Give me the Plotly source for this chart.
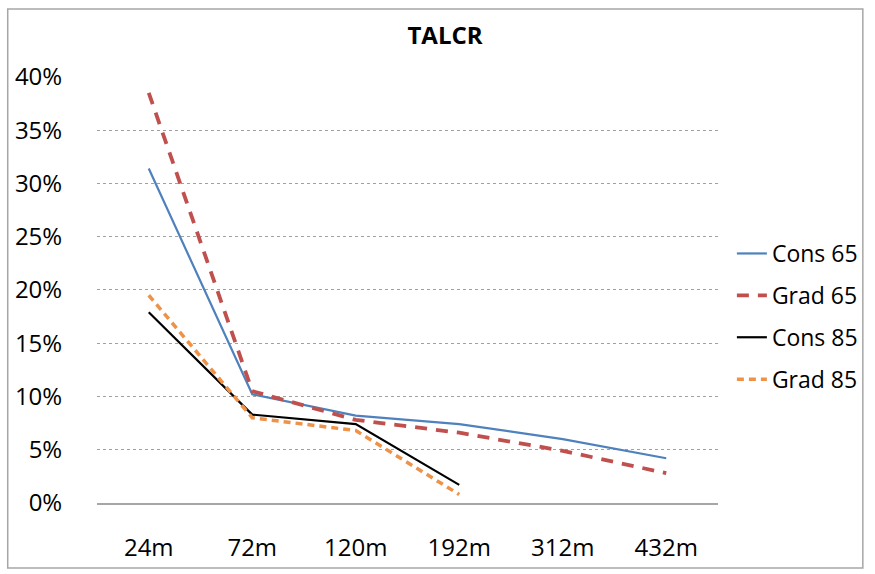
import plotly.graph_objects as go

categories = ["24m", "72m", "120m", "192m", "312m", "432m"]
cons65 = [0.314, 0.102, 0.082, 0.074, 0.060, 0.042]
grad65 = [0.385, 0.105, 0.078, 0.066, 0.049, 0.028]
cons85 = [0.179, 0.083, 0.074, 0.017]
grad85 = [0.195, 0.080, 0.068, 0.008]
yticks = [0, 0.05, 0.10, 0.15, 0.20, 0.25, 0.30, 0.35, 0.40]
ytext = ["0%", "5%", "10%", "15%", "20%", "25%", "30%", "35%", "40%"]

FONT = "Open Sans"
W, H = 875, 574
L, T = 97, 76
pw, ph = 626, 427
R = W - L - pw
B = H - T - ph

fig = go.Figure()
fig.add_trace(go.Scatter(x=categories, y=cons65, name="Cons 65", mode="lines",
                         line=dict(color="#4F81BD", width=2.2), legendgroup="a"))
fig.add_trace(go.Scatter(x=categories, y=grad65, name="Grad 65", mode="lines",
                         line=dict(color="#C0504D", width=3.8, dash="12px,9px"), legendgroup="b"))
fig.add_trace(go.Scatter(x=categories[:4], y=cons85, name="Cons 85", mode="lines",
                         line=dict(color="#000000", width=2.2), legendgroup="c"))
fig.add_trace(go.Scatter(x=categories[:4], y=grad85, name="Grad 85", mode="lines",
                         line=dict(color="#EE9248", width=3.5, dash="7px,5px"), legendgroup="d"))

def px2x(p):
    return (p - L) / pw

def px2y(p):
    return (T + ph - p) / ph

fig.add_shape(type="rect", xref="paper", yref="paper",
              x0=px2x(7), x1=px2x(869), y0=px2y(568), y1=px2y(9),
              line=dict(color="#A6A6A6", width=1.5), fillcolor="rgba(0,0,0,0)", layer="below")

fig.update_layout(
    width=W, height=H,
    margin=dict(l=L, r=R, t=T, b=B),
    paper_bgcolor="white", plot_bgcolor="white",
    font=dict(family=FONT, size=24, color="#000000"),
    title=dict(text="<b>TALCR</b>", x=445 / W, xref="container", xanchor="center",
               y=1 - 36 / H, yref="container", yanchor="middle",
               font=dict(family=FONT, size=24, color="#000000")),
    showlegend=True,
    legend=dict(x=px2x(737), xanchor="left", y=px2y(232), yanchor="top",
                font=dict(family=FONT, size=23), tracegroupgap=9,
                bgcolor="rgba(0,0,0,0)"),
    xaxis=dict(showgrid=False, showline=True, linecolor="#A6A6A6", linewidth=1.5,
               ticks="outside", ticklen=22, tickcolor="rgba(0,0,0,0)",
               tickfont=dict(family=FONT, size=24), range=[-0.5, 5.5], fixedrange=True),
    yaxis=dict(range=[0, 0.4008], tickvals=yticks, ticktext=ytext,
               showgrid=True, gridcolor="#A0A0A0", griddash="dot", gridwidth=1,
               showline=False, zeroline=False,
               ticks="outside", ticklen=29, tickcolor="rgba(0,0,0,0)",
               tickfont=dict(family=FONT, size=24)),
)

fig.write_html("out.html", config={"displayModeBar": False},
               post_script="document.body.style.margin='0px';")
